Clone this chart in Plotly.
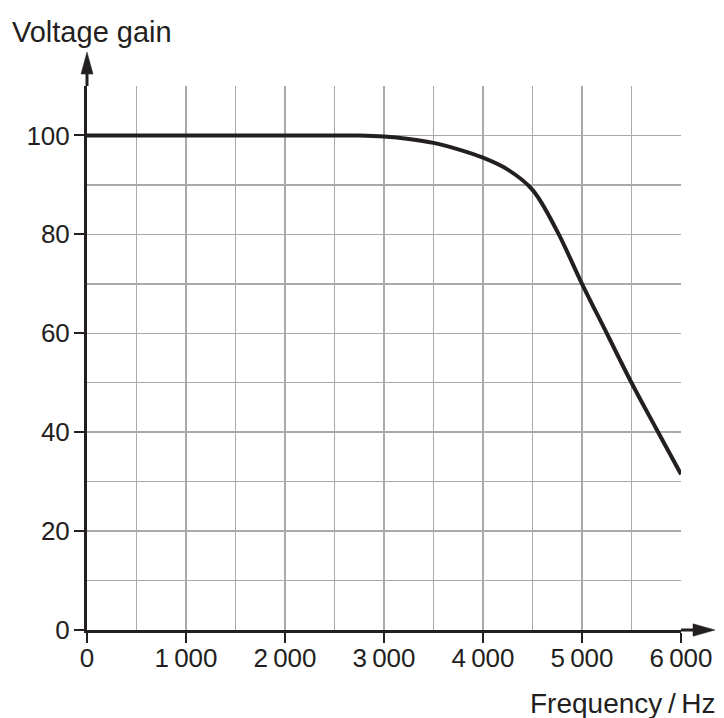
import plotly.graph_objects as go

# ---- data ----
frequency_hz = [0, 500, 1000, 1500, 2000, 2500, 2750, 3000, 3250, 3500, 3750, 4000,
                4250, 4500, 4750, 5000, 5250, 5500, 5750, 6000]
voltage_gain = [100, 100, 100, 100, 100, 100, 100, 99.8, 99.3, 98.5, 97.2, 95.5,
                93.1, 89.0, 80.6, 70.0, 60, 50, 40.7, 31.5]

x_tick_vals = [0, 1000, 2000, 3000, 4000, 5000, 6000]
x_tick_text = ["0", "1\u2009000", "2\u2009000", "3\u2009000", "4\u2009000", "5\u2009000", "6\u2009000"]
y_tick_vals = [0, 20, 40, 60, 80, 100]
y_tick_text = ["0", "20", "40", "60", "80", "100"]

INK = "#231f20"
GRID = "#a7a9ac"
FONT = "Liberation Sans, Arial, Helvetica, sans-serif"

fig = go.Figure()
fig.add_trace(go.Scatter(
    x=frequency_hz, y=voltage_gain, mode="lines",
    line=dict(color=INK, width=4, shape="spline", smoothing=1.0),
    hoverinfo="skip", showlegend=False, cliponaxis=False,
))

axis_common = dict(
    showline=True, linecolor=INK, linewidth=3,
    ticks="outside", ticklen=10, tickwidth=2, tickcolor=INK,
    showgrid=True, gridcolor=GRID, gridwidth=1.5,
    zeroline=False, tickfont=dict(family=FONT, size=26, color=INK),
)

fig.update_xaxes(
    range=[0, 6000], tickmode="array", tickvals=x_tick_vals, ticktext=x_tick_text,
    minor=dict(dtick=500, tick0=0, showgrid=True, gridcolor=GRID, gridwidth=1.5, ticks=""),
    ticklabelstandoff=-7, **axis_common,
)
fig.update_yaxes(
    range=[0, 110], tickmode="array", tickvals=y_tick_vals, ticktext=y_tick_text,
    minor=dict(dtick=10, tick0=0, showgrid=True, gridcolor=GRID, gridwidth=1.5, ticks=""),
    ticklabelstandoff=-1, **axis_common,
)

# axis arrows (decorations), paper-referenced so they are not clipped
shapes = [
    dict(type="line", xref="paper", yref="paper", xsizemode="pixel", ysizemode="pixel",
         xanchor=0, yanchor=1, x0=0, x1=0, y0=0, y1=14,
         line=dict(color=INK, width=3)),
    dict(type="path", xref="paper", yref="paper", xsizemode="pixel", ysizemode="pixel",
         xanchor=0, yanchor=1, path="M -6,12 L 6,12 L 0,34 Z",
         fillcolor=INK, line=dict(color=INK, width=0.5)),
    dict(type="line", xref="paper", yref="paper", xsizemode="pixel", ysizemode="pixel",
         xanchor=1, yanchor=0, x0=0, x1=14, y0=0, y1=0,
         line=dict(color=INK, width=3)),
    dict(type="path", xref="paper", yref="paper", xsizemode="pixel", ysizemode="pixel",
         xanchor=1, yanchor=0, path="M 12,-6.2 L 12,6.2 L 34,0 Z",
         fillcolor=INK, line=dict(color=INK, width=0.5)),
]

L, T, R, B = 87, 86, 43, 88
W, H = 724, 718
pw, ph = W - L - R, H - T - B

def px(xp):
    return (xp - L) / pw

def py(yp):
    return (H - B - yp) / ph

annotations = [
    dict(text="Voltage gain", xref="paper", yref="paper", x=px(10), y=py(32),
         xanchor="left", yanchor="middle", showarrow=False,
         font=dict(family=FONT, size=29, color=INK)),
    dict(text="Frequency\u2009/\u2009Hz", xref="paper", yref="paper", x=px(718), y=py(703),
         xanchor="right", yanchor="middle", showarrow=False,
         font=dict(family=FONT, size=28, color=INK)),
]

fig.update_layout(
    width=W, height=H, margin=dict(l=L, r=R, t=T, b=B),
    paper_bgcolor="white", plot_bgcolor="white",
    shapes=shapes, annotations=annotations, showlegend=False,
)

fig.write_html(
    "out.html",
    config={"displayModeBar": False, "staticPlot": True},
    post_script="document.body.style.margin='0';document.body.style.overflow='hidden';",
)
